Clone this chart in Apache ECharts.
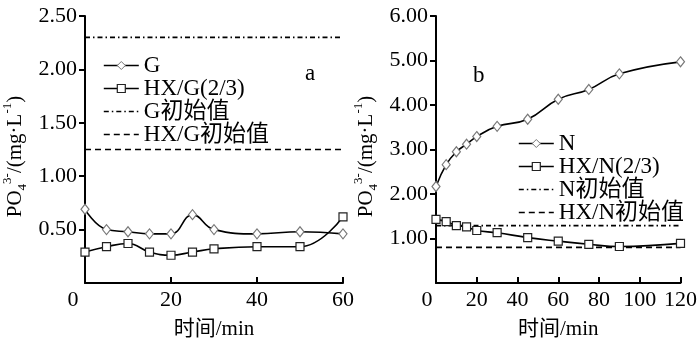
<!DOCTYPE html>
<html><head><meta charset="utf-8">
<script src="https://cdn.jsdelivr.net/npm/echarts@6/dist/echarts.min.js"></script>
<style>html,body{margin:0;padding:0;background:#fff}#c{width:700px;height:345px}</style>
</head><body><div id="c"></div>
<script>
// ---- data ----
const timeA = [0, 5, 10, 15, 20, 25, 30, 40, 50, 60];
const seriesG = [0.69, 0.50, 0.48, 0.46, 0.46, 0.64, 0.50, 0.46, 0.48, 0.46];
const seriesHXG = [0.29, 0.34, 0.37, 0.29, 0.26, 0.29, 0.32, 0.34, 0.34, 0.62];
const initG = 2.30;
const initHXG = 1.25;
const timeB = [0, 5, 10, 15, 20, 30, 45, 60, 75, 90, 120];
const seriesN = [2.17, 2.66, 2.95, 3.12, 3.29, 3.52, 3.68, 4.13, 4.35, 4.70, 4.97];
const seriesHXN = [1.43, 1.38, 1.29, 1.26, 1.18, 1.13, 1.02, 0.94, 0.87, 0.82, 0.89];
const initN = 1.29;
const initHXN = 0.80;
const namesA = ['G', 'HX/G(2/3)', 'G初始值', 'HX/G初始值'];
const namesB = ['N', 'HX/N(2/3)', 'N初始值', 'HX/N初始值'];
const xMaxA = 60, xMaxB = 120;
const yMaxA = 2.5, yMaxB = 6;
const xTitle = '时间/min';
const yTitle = 'PO{sub|4}{sup|3-}/(mg·L{sup|-1})';
const panelLabels = ['a', 'b'];

// ---- style ----
const FONT = "'Liberation Serif','Times New Roman','Noto Sans CJK SC',serif";
const DASHDOT = [5, 3, 1.5, 3];
const DASH = [6, 4];
const zip = (xs, ys) => xs.map((x, i) => [x, ys[i]]);

function makeX(idx, max, zeroPad) {
  return {
    type: 'value', gridIndex: idx, min: 0, max: max, interval: 20,
    axisLine: { lineStyle: { color: '#000', width: 2 } },
    axisTick: { inside: true, length: 6, lineStyle: { color: '#000', width: 2 } },
    splitLine: { show: false },
    axisLabel: {
      color: '#000', fontFamily: FONT, fontSize: 22, margin: 6,
      formatter: v => v === 0 ? '{z|0}' : String(v),
      rich: { z: { color: '#000', fontFamily: FONT, fontSize: 22, padding: [0, zeroPad, 0, 0] } }
    },
    name: xTitle, nameLocation: 'middle', nameGap: 36,
    nameTextStyle: { color: '#000', fontFamily: FONT, fontSize: 21 }
  };
}
function makeY(idx, max, interval) {
  return {
    type: 'value', gridIndex: idx, min: 0, max: max, interval: interval,
    axisLine: { show: true, lineStyle: { color: '#000', width: 2 } },
    axisTick: { show: true, inside: false, length: 6, lineStyle: { color: '#000', width: 2 } },
    splitLine: { show: false },
    axisLabel: {
      color: '#000', fontFamily: FONT, fontSize: 22, margin: 8, showMinLabel: false,
      formatter: v => v.toFixed(2)
    },
    name: yTitle, nameLocation: 'middle', nameGap: 56, nameRotate: 90,
    nameTextStyle: {
      color: '#000', fontFamily: FONT, fontSize: 21, lineHeight: 28, padding: [0, 14, 0, 0],
      rich: {
        sub: { fontFamily: FONT, fontSize: 13, lineHeight: 14, verticalAlign: 'bottom', color: '#000' },
        sup: { fontFamily: FONT, fontSize: 13, lineHeight: 14, verticalAlign: 'top', color: '#000' }
      }
    }
  };
}
function dataSeries(name, xi, xs, ys, symbol, size, border) {
  return {
    type: 'line', name: name, xAxisIndex: xi, yAxisIndex: xi, data: zip(xs, ys),
    smooth: 0.45, symbol: symbol, symbolSize: size, showSymbol: true,
    itemStyle: { color: '#fff', borderColor: border, borderWidth: 1.2 },
    lineStyle: { color: '#000', width: 1.6 }, z: 4, animation: false
  };
}
function refSeries(name, xi, max, v, dash) {
  return {
    type: 'line', name: name, xAxisIndex: xi, yAxisIndex: xi, data: [[0, v], [max, v]],
    symbol: 'none', lineStyle: { color: '#000', width: 1.6, type: dash }, z: 2, animation: false
  };
}
function legendItems(names) {
  return [
    { name: names[0], itemStyle: { color: '#fff', borderColor: '#777', borderWidth: 1 }, lineStyle: { color: '#000', width: 1.6 } },
    { name: names[1], itemStyle: { color: '#fff', borderColor: '#222', borderWidth: 1.2 }, lineStyle: { color: '#000', width: 1.6 } },
    { name: names[2], itemStyle: { color: 'rgba(0,0,0,0)', borderColor: 'rgba(0,0,0,0)', borderWidth: 0 }, lineStyle: { color: '#000', width: 1.6, type: DASHDOT } },
    { name: names[3], itemStyle: { color: 'rgba(0,0,0,0)', borderColor: 'rgba(0,0,0,0)', borderWidth: 0 }, lineStyle: { color: '#000', width: 1.6, type: DASH } }
  ];
}

const chart = echarts.init(document.getElementById('c'), null, { renderer: 'canvas' });
chart.setOption({
  backgroundColor: '#fff',
  animation: false,
  grid: [
    { left: 83, top: 16, width: 260, height: 268 },
    { left: 436, top: 16, width: 251, height: 268 }
  ],
  xAxis: [makeX(0, xMaxA, 24), makeX(1, xMaxB, 18)],
  yAxis: [makeY(0, yMaxA, 0.5), makeY(1, yMaxB, 1)],
  legend: [
    { left: 103, top: 54, orient: 'vertical', itemWidth: 35, itemHeight: 10, itemGap: 0, padding: 0,
      data: legendItems(namesA), selectedMode: false,
      textStyle: { color: '#000', fontFamily: FONT, fontSize: 23, lineHeight: 19 } },
    { left: 518, top: 132, orient: 'vertical', itemWidth: 35, itemHeight: 10, itemGap: 0, padding: 0,
      data: legendItems(namesB), selectedMode: false,
      textStyle: { color: '#000', fontFamily: FONT, fontSize: 23, lineHeight: 20 } }
  ],
  graphic: [
    { type: 'text', left: 305, top: 62, style: { text: panelLabels[0], fill: '#000', font: '23px ' + FONT } },
    { type: 'text', left: 473, top: 64, style: { text: panelLabels[1], fill: '#000', font: '23px ' + FONT } }
  ],
  series: [
    refSeries(namesA[2], 0, xMaxA, initG, DASHDOT),
    refSeries(namesA[3], 0, xMaxA, initHXG, DASH),
    dataSeries(namesA[0], 0, timeA, seriesG, 'diamond', [8, 10], '#777'),
    dataSeries(namesA[1], 0, timeA, seriesHXG, 'rect', 8, '#222'),
    refSeries(namesB[2], 1, xMaxB, initN, DASHDOT),
    refSeries(namesB[3], 1, xMaxB, initHXN, DASH),
    dataSeries(namesB[0], 1, timeB, seriesN, 'diamond', [8, 10], '#777'),
    dataSeries(namesB[1], 1, timeB, seriesHXN, 'rect', 8, '#222')
  ]
});
</script>
</body></html>
